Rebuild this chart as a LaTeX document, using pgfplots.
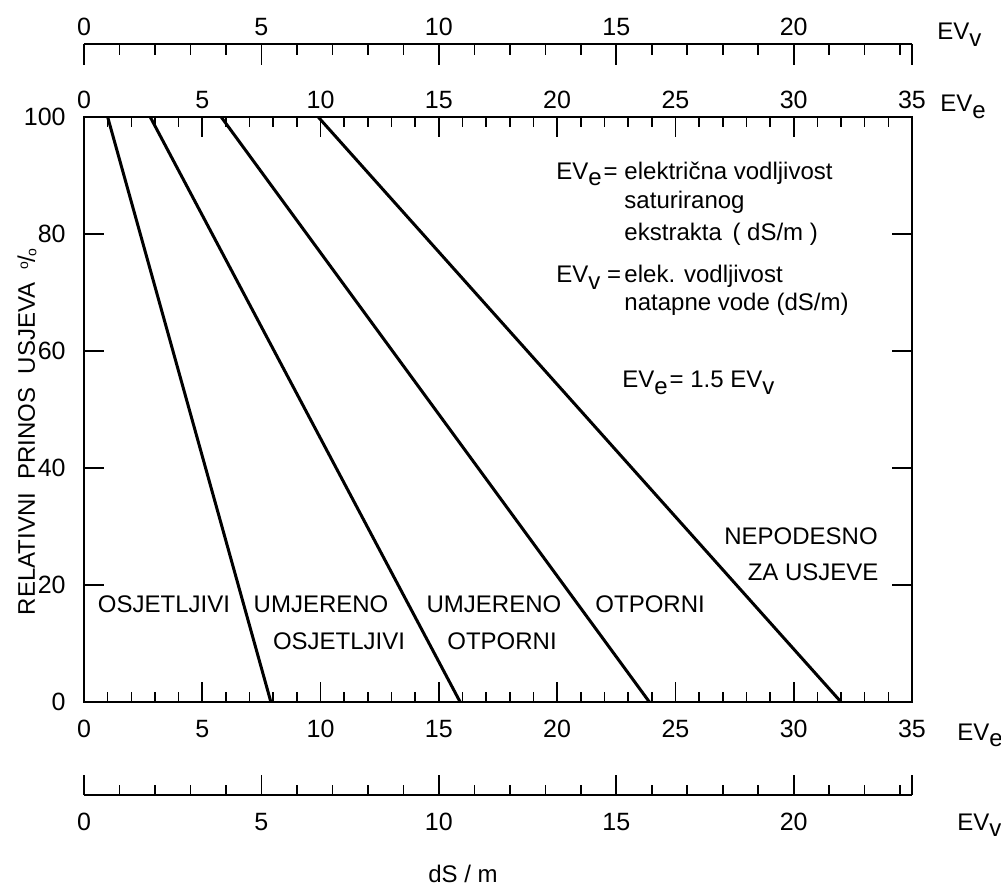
\documentclass[border=0pt]{standalone}
\usepackage{fontspec}
\setmainfont{Liberation Sans}
\usepackage{pgfplots}
\pgfplotsset{compat=1.18}
\newcommand{\sub}[1]{\raisebox{-0.55ex}{#1}}
\begin{document}
\fontsize{12}{14}\selectfont
\begin{tikzpicture}
% main axis
\begin{axis}[
  name=main, at={(0,0)}, anchor=south west,
  scale only axis, width=414pt, height=292.5pt,
  xmin=0, xmax=35, ymin=0, ymax=100,
  xtick={0,5,...,35}, minor x tick num=4,
  ytick={0,20,...,100},
  tick align=inside,
  major tick length=10pt, minor tick length=5pt,
  axis line style={line width=1pt},
  tick style={black, line width=0.8pt},
  x tick label style={yshift=-5pt},
  y tick label style={xshift=-5pt},
  /pgf/number format/assume math mode=true,
  ticklabel style={font=\fontsize{12.5}{14}\selectfont},
  clip=false,
]
\addplot[black, line width=1.5pt] coordinates {(1.0,100) (7.9,0)};
\addplot[black, line width=1.5pt] coordinates {(2.8,100) (15.9,0)};
\addplot[black, line width=1.5pt] coordinates {(5.8,100) (23.9,0)};
\addplot[black, line width=1.5pt] coordinates {(9.9,100) (32.0,0)};
% category labels
\node[anchor=base] at (axis cs:3.38,15.38) {OSJETLJIVI};
\node[anchor=base] at (axis cs:10.02,15.38) {UMJERENO};
\node[anchor=base] at (axis cs:10.78,8.9) {OSJETLJIVI};
\node[anchor=base] at (axis cs:17.33,15.38) {UMJERENO};
\node[anchor=base] at (axis cs:17.67,8.9) {OTPORNI};
\node[anchor=base] at (axis cs:23.93,15.38) {OTPORNI};
\node[anchor=base] at (axis cs:30.31,27.0) {NEPODESNO};
\node[anchor=base] at (axis cs:30.82,20.7) {ZA USJEVE};
% legend text block
\node[anchor=base west, inner sep=0pt] at (axis cs:19.95,89.4) {EV\sub{e}\kern1pt=};
\node[anchor=base west, inner sep=0pt] at (axis cs:22.83,89.4) {električna vodljivost};
\node[anchor=base west, inner sep=0pt] at (axis cs:22.83,84.44) {saturiranog};
\node[anchor=base west, inner sep=0pt] at (axis cs:22.83,78.97) {ekstrakta \,( dS/m )};
\node[anchor=base west, inner sep=0pt] at (axis cs:19.95,71.79) {EV\sub{v} =};
\node[anchor=base west, inner sep=0pt] at (axis cs:22.83,71.79) {elek. vodljivost};
\node[anchor=base west, inner sep=0pt] at (axis cs:22.83,66.84) {natapne vode (dS/m)};
\node[anchor=base west, inner sep=0pt] at (axis cs:22.74,53.68) {EV\sub{e}\kern1pt= 1.5 EV\sub{v}};
\end{axis}
% top EVe tick labels
\begin{axis}[
  at={(0,0)}, anchor=south west,
  scale only axis, width=414pt, height=292.5pt,
  xmin=0, xmax=35, ymin=0, ymax=1,
  axis x line=top, axis y line=none,
  axis line style={draw=none},
  xtick={0,5,...,35}, major tick length=0pt,
  /pgf/number format/assume math mode=true,
  ticklabel style={font=\fontsize{12.5}{14}\selectfont},
]
\end{axis}
% top EVv scale
\begin{axis}[
  at={(0,319pt)}, anchor=south west,
  scale only axis, width=414pt, height=10pt,
  xmin=0, xmax=23.3333, ymin=0, ymax=1,
  axis x line=top, axis y line=none,
  axis line style={-, line width=1pt},
  every outer x axis line/.append style={-},
  tick align=inside,
  xtick={0,5,...,20},
  minor xtick={1,2,3,4,6,7,8,9,11,12,13,14,16,17,18,19,21,22,23},
  extra x ticks={23.3333}, extra x tick labels={},
  major tick length=10.5pt, minor tick length=5.5pt,
  tick style={black, line width=0.8pt},
  /pgf/number format/assume math mode=true,
  ticklabel style={font=\fontsize{12.5}{14}\selectfont},
]
\end{axis}
% bottom EVv scale
\begin{axis}[
  at={(0,-46.5pt)}, anchor=south west,
  scale only axis, width=414pt, height=10pt,
  xmin=0, xmax=23.3333, ymin=0, ymax=1,
  axis x line=bottom, axis y line=none,
  axis line style={-, line width=1pt},
  every outer x axis line/.append style={-},
  tick align=inside,
  xtick={0,5,...,20},
  minor xtick={1,2,3,4,6,7,8,9,11,12,13,14,16,17,18,19,21,22,23},
  extra x ticks={23.3333}, extra x tick labels={},
  major tick length=10pt, minor tick length=5pt,
  tick style={black, line width=0.8pt},
  x tick label style={yshift=-5pt},
  /pgf/number format/assume math mode=true,
  ticklabel style={font=\fontsize{12.5}{14}\selectfont},
]
\end{axis}
% axis unit labels
\node[anchor=base west, inner sep=0pt] at (426.5pt,331pt) {EV\sub{v}};
\node[anchor=base west, inner sep=0pt] at (428pt,295pt) {EV\sub{e}};
\node[anchor=base west, inner sep=0pt] at (436.5pt,-19pt) {EV\sub{e}};
\node[anchor=base west, inner sep=0pt] at (436.5pt,-64pt) {EV\sub{v}};
\node[anchor=base, inner sep=0pt] at (189.5pt,-90pt) {dS / m};
\node[rotate=90, inner sep=0pt] at (-28.5pt,135pt) {RELATIVNI \ PRINOS \ USJEVA \ \raisebox{0.55ex}{\scriptsize o}\kern-0.5pt/\kern-0.5pt\raisebox{-0.1ex}{\scriptsize o}};
\pgfresetboundingbox
\path (-42pt,-94pt) rectangle (458.5pt,351pt);
\end{tikzpicture}
\end{document}
